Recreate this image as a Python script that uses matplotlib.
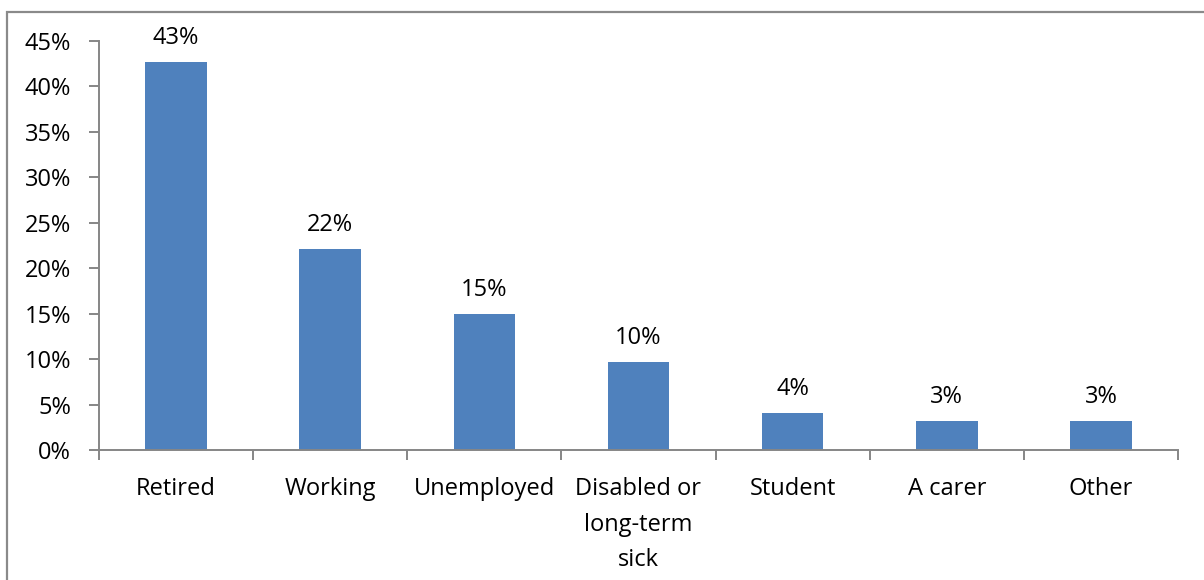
import matplotlib.pyplot as plt
from matplotlib.patches import Rectangle
from matplotlib.ticker import FuncFormatter

# Situación laboral de los encuestados (%)
categorias = ['Retired', 'Working', 'Unemployed', 'Disabled or\nlong-term\nsick',
              'Student', 'A carer', 'Other']
porcentajes = [42.65, 22.15, 15.0, 9.75, 4.07, 3.19, 3.19]
ticks_y = [0, 5, 10, 15, 20, 25, 30, 35, 40, 45]

plt.rcParams['font.family'] = ['Open Sans', 'DejaVu Sans']

fig = plt.figure(figsize=(12.04, 5.80), dpi=100)
ax = fig.add_axes([0.0822, 0.2236, 0.8962, 0.7057])

# borde gris del área del gráfico
fig.patches.append(Rectangle((7 / 1204, -0.1), 1.2, 1.1 - 12 / 580,
                             transform=fig.transFigure, fill=False,
                             edgecolor='#8a8a8a', linewidth=1.6))

x = range(len(categorias))
bars = ax.bar(x, porcentajes, width=0.40, color='#4F81BD', zorder=2)
ax.set_xlim(-0.5, len(categorias) - 0.5)
ax.set_ylim(0, 45)
ax.set_yticks(ticks_y)
ax.yaxis.set_major_formatter(FuncFormatter(lambda v, p: f'{v:.0f}%'))

# marcas del eje x entre categorías
ax.set_xticks([i - 0.5 for i in range(len(categorias) + 1)])
ax.set_xticklabels([])
ax.set_xticks(list(x), minor=True)
ax.set_xticklabels(categorias, minor=True, fontsize=17, linespacing=1.62, va='top')
ax.tick_params(axis='x', which='minor', length=0, pad=19.5)
ax.tick_params(axis='x', which='major', length=7, width=1.4, color='#868686')
ax.tick_params(axis='y', length=7, width=1.4, color='#868686', labelsize=17, pad=13)

for side in ['top', 'right']:
    ax.spines[side].set_visible(False)
for side in ['left', 'bottom']:
    ax.spines[side].set_color('#868686')
    ax.spines[side].set_linewidth(1.4)

for bar, v in zip(bars, porcentajes):
    ax.annotate(f'{v:.0f}%', (bar.get_x() + bar.get_width() / 2, v),
                xytext=(0, 13), textcoords='offset points',
                ha='center', va='baseline', fontsize=17)

fig.savefig('out.png', dpi=100)
